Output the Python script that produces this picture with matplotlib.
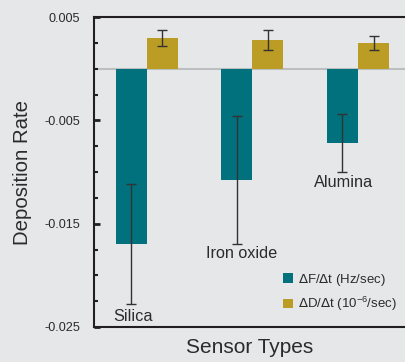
import numpy as np
import matplotlib
matplotlib.use('Agg')
import matplotlib.pyplot as plt

# data
sensors = ['Silica', 'Iron oxide', 'Alumina']
dF = [-0.0170, -0.0108, -0.0072]
dF_err = [0.0058, 0.0062, 0.0028]
dD = [0.0030, 0.0028, 0.0025]
dD_err = [0.00076, 0.0010, 0.0007]
yticks = [0.005, -0.005, -0.015, -0.025]

plt.rcParams['font.family'] = ['Liberation Sans', 'DejaVu Sans']
bg = '#e6e7e9'
teal = '#00717d'
gold = '#bb9c24'
dark = '#231f20'
txt = '#2b2b2b'

fig = plt.figure(figsize=(4.06, 3.62), dpi=100, facecolor=bg)
ax = fig.add_axes([0.2315, 0.0967, 0.7685, 0.856], facecolor=bg)

x = np.arange(len(sensors))
w = 0.294
ax.axhline(0, color='#bdbec0', lw=1.5, zorder=1)
ax.bar(x - w/2, dF, w, color=teal, label=r'$\Delta$F/$\Delta$t (Hz/sec)', zorder=2)
ax.bar(x + w/2, dD, w, color=gold, label=r'$\Delta$D/$\Delta$t (10$^{\mathregular{-6}}$/sec)', zorder=2)
ax.errorbar(x - w/2, dF, yerr=dF_err, fmt='none', ecolor='#333333', elinewidth=1,
            capsize=3.5, capthick=1, zorder=3)
ax.errorbar(x + w/2, dD, yerr=dD_err, fmt='none', ecolor='#333333', elinewidth=1,
            capsize=3.5, capthick=1, zorder=3)

# sensor names under the error bars
label_y = [-0.0240, -0.0179, -0.0110]
label_x = [-0.133, 0.898, 1.867]
for lx, ly, name in zip(label_x, label_y, sensors):
    ax.text(lx, ly, name, ha='center', va='center', fontsize=11.7, color=txt)

ax.set_xlim(-0.502, 2.455)
ax.set_ylim(-0.025, 0.005)
ax.set_xticks([])
ax.set_yticks(yticks)
ax.set_yticklabels(['0.005', '-0.005', '-0.015', '-0.025'], fontsize=9.1, color=txt)
ax.set_yticks(np.arange(-0.0225, 0.005, 0.0025), minor=True)
ax.tick_params(axis='y', which='major', direction='in', length=4, width=2, pad=10, color=dark)
ax.tick_params(axis='y', which='minor', direction='in', length=3, width=1.5, color=dark)

for s in ['left', 'top', 'bottom']:
    ax.spines[s].set_color(dark)
    ax.spines[s].set_linewidth(1.5)
ax.spines['right'].set_visible(False)

ax.set_ylabel('Deposition Rate', fontsize=14.7, color=txt, labelpad=9)
ax.set_xlabel('Sensor Types', fontsize=15, color=txt, labelpad=8)

ax.legend(loc='upper left', bbox_to_anchor=(0.585, 0.2), frameon=False, fontsize=9.5,
          handlelength=0.75, handleheight=0.75, handletextpad=0.4, labelspacing=0.55,
          borderpad=0, labelcolor=txt)

fig.savefig('out.png', dpi=100, facecolor=bg)
